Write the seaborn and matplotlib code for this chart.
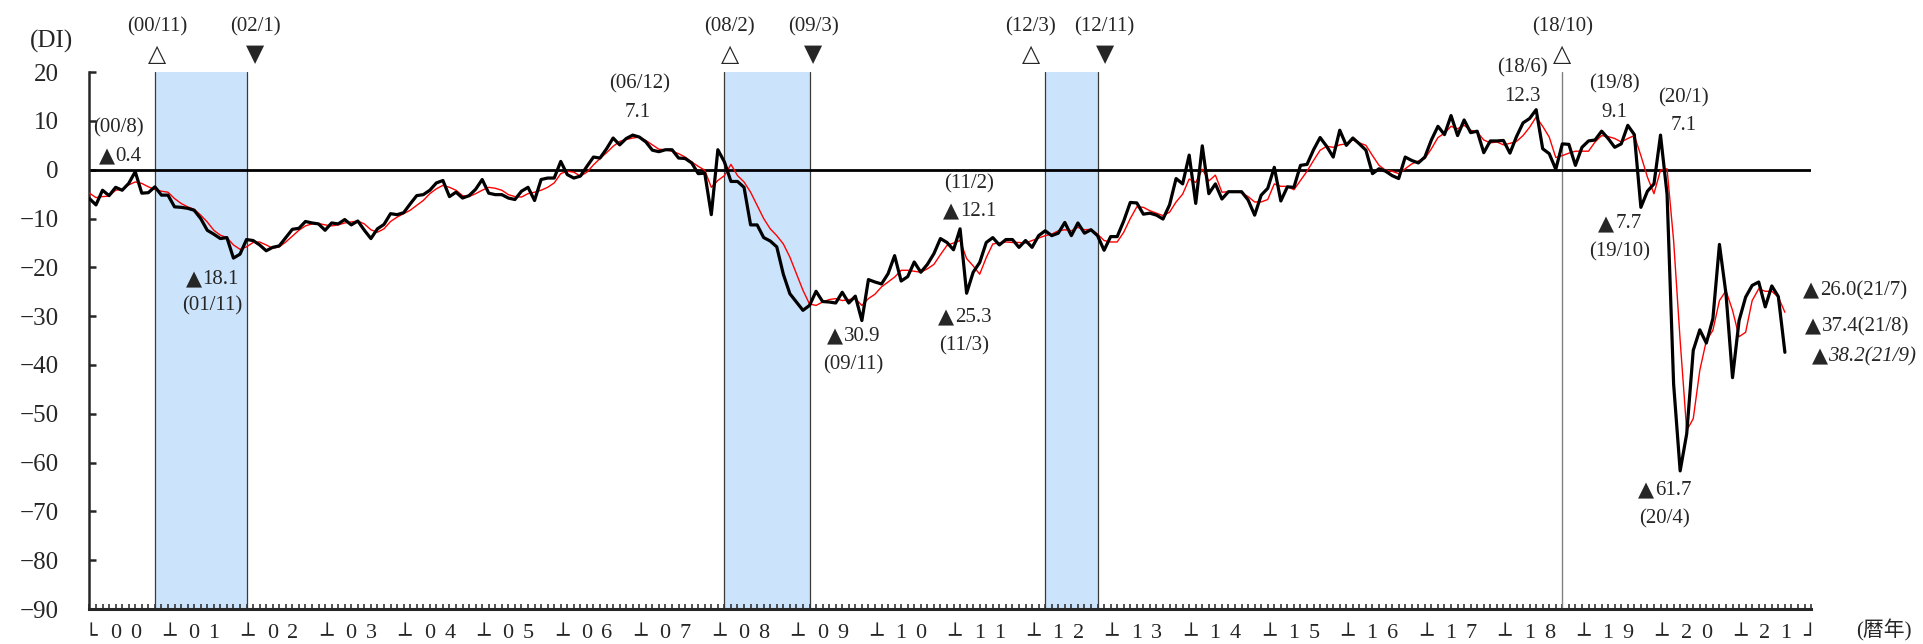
import numpy as np
import pandas as pd
import matplotlib
matplotlib.use("Agg")
import matplotlib.pyplot as plt
import seaborn as sns
from matplotlib.ticker import FixedLocator, NullLocator

# Monthly DI, 2000/1 - 2021/8 (one row per year)
di_actual = [
    -5.9, -7.2, -4.2, -5.3, -3.6, -4.2, -2.8, -0.4, -4.8, -4.7, -3.5, -5.2,         # 00
    -5.2, -7.6, -7.7, -7.9, -8.3, -10.0, -12.4, -13.2, -14.1, -13.9, -18.1, -17.3,  # 01
    -14.3, -14.5, -15.4, -16.6, -15.9, -15.6, -13.9, -12.2, -12.0, -10.6, -10.9, -11.1,  # 02
    -12.4, -10.9, -11.1, -10.2, -11.3, -10.5, -12.4, -14.1, -12.1, -11.2, -9.0, -9.2,  # 03
    -8.8, -7.0, -5.3, -5.1, -4.2, -2.7, -2.2, -5.5, -4.6, -5.8, -5.3, -4.0,        # 04
    -2.0, -4.8, -5.1, -5.1, -5.8, -6.1, -4.4, -3.6, -6.3, -2.0, -1.7, -1.7,        # 05
    1.7, -1.0, -1.7, -1.3, 0.7, 2.6, 2.4, 4.3, 6.5, 5.1, 6.4, 7.1,                 # 06
    6.7, 5.7, 4.0, 3.7, 4.1, 4.1, 2.4, 2.3, 1.4, -0.8, -0.7, -9.2,                 # 07
    4.1, 1.6, -2.4, -2.4, -3.6, -11.3, -11.3, -13.9, -14.6, -15.8, -21.4, -25.4,   # 08
    -27.1, -28.8, -27.8, -24.9, -27.0, -27.1, -27.3, -25.1, -27.3, -25.9, -30.9, -22.5,  # 09
    -23.0, -23.4, -21.3, -17.6, -22.8, -21.9, -18.9, -21.0, -19.4, -17.2, -14.1, -14.9,  # 10
    -16.4, -12.1, -25.3, -21.0, -19.0, -14.9, -13.9, -15.4, -14.3, -14.3, -15.9, -14.5,  # 11
    -15.9, -13.5, -12.5, -13.5, -13.0, -10.8, -13.5, -10.9, -13.0, -12.3, -13.5, -16.5,  # 12
    -13.7, -13.7, -10.5, -6.7, -6.8, -9.1, -8.9, -9.3, -10.1, -7.2, -1.8, -2.9,    # 13
    3.0, -6.9, 4.9, -4.9, -2.9, -6.0, -4.5, -4.5, -4.5, -6.2, -9.3, -5.2,          # 14
    -3.8, 0.5, -6.4, -3.5, -3.6, 0.9, 1.1, 4.1, 6.6, 4.8, 2.6, 8.1,                # 15
    5.0, 6.5, 5.3, 4.0, -0.8, 0.2, -0.3, -1.2, -1.8, 2.6, 1.9, 1.4,                # 16
    2.6, 6.1, 8.9, 7.2, 11.1, 7.0, 10.2, 7.6, 7.9, 3.5, 5.9, 5.9,                  # 17
    6.0, 3.4, 6.8, 9.6, 10.5, 12.3, 4.3, 3.3, 0.1, 5.3, 5.2, 0.9,                  # 18
    4.6, 5.9, 6.1, 7.9, 6.4, 4.6, 5.3, 9.1, 7.2, -7.7, -4.4, -2.9,                 # 19
    7.1, -5.0, -43.9, -61.7, -54.1, -37.0, -32.8, -35.5, -30.5, -15.3, -25.4, -42.6,  # 20
    -30.9, -26.1, -23.7, -23.0, -28.1, -23.8, -26.0, -37.4,                        # 21
]

# Red smoothed line, same months
di_smooth = [
    -4.8, -5.7, -5.5, -5.4, -4.2, -4.0, -3.1, -2.5, -2.8, -3.5, -4.0, -4.4,
    -4.6, -5.9, -6.9, -7.6, -8.1, -9.3, -10.7, -12.4, -13.4, -13.9, -15.4, -16.3,
    -15.8, -14.9, -14.8, -15.4, -16.1, -15.8, -14.8, -13.6, -12.4, -11.5, -11.1, -11.0,
    -11.3, -11.5, -11.3, -10.9, -10.7, -10.5, -11.1, -12.3, -12.8, -12.1, -10.6, -9.7,
    -9.0, -8.3, -7.3, -6.3, -4.9, -3.9, -3.2, -3.6, -4.2, -5.3, -5.5, -4.9,
    -4.2, -3.6, -3.8, -4.2, -5.1, -5.5, -5.6, -4.9, -4.6, -4.2, -3.6, -2.7,
    -0.8, -0.3, -0.5, -1.3, -0.5, 1.0, 2.3, 3.5, 4.8, 5.8, 6.2, 6.5,
    6.7, 6.0, 5.1, 4.2, 4.1, 3.8, 3.3, 2.6, 1.6, 0.7, -0.1, -3.6,
    -2.2, -1.2, 1.1, -1.2, -2.5, -4.6, -7.3, -10.0, -12.1, -13.5, -15.2, -17.9,
    -21.3, -24.7, -27.5, -27.8, -27.1, -26.6, -26.4, -26.8, -26.6, -26.4, -27.8, -26.4,
    -25.5, -24.0, -23.0, -22.0, -20.6, -20.6, -20.8, -21.0, -20.3, -19.4, -17.4, -15.5,
    -15.0, -14.5, -18.2, -19.7, -21.4, -18.0, -15.2, -15.0, -14.8, -14.9, -14.9, -15.0,
    -14.5, -14.0, -13.5, -13.2, -12.5, -12.3, -12.5, -11.8, -12.3, -12.2, -13.2, -14.5,
    -14.8, -14.8, -12.8, -10.0, -7.6, -7.7, -8.4, -8.9, -9.4, -8.7, -6.6, -5.0,
    -1.9, -2.6, 0.1, -2.3, -1.1, -4.6, -4.5, -4.5, -4.7, -5.5, -6.6, -6.6,
    -6.1, -2.9, -3.4, -3.4, -4.1, -2.2, -0.3, 1.9, 4.0, 4.8, 4.6, 5.1,
    5.3, 6.1, 5.5, 5.0, 2.9, 0.9, -0.1, -0.3, -0.8, 0.2, 1.2, 1.8,
    2.3, 4.3, 6.6, 7.5, 8.9, 8.4, 9.1, 8.1, 7.7, 6.1, 5.5, 5.7,
    5.1, 5.4, 5.8, 7.0, 8.7, 10.8, 8.9, 6.7, 2.5, 2.9, 3.4, 3.8,
    3.8, 3.8, 5.7, 7.0, 6.8, 6.4, 5.7, 6.4, 7.0, 2.9, -1.5, -4.9,
    -0.1, 0.2, -14.5, -35.0, -53.4, -51.0, -41.1, -35.0, -32.9, -26.8, -24.8, -28.8,
    -34.2, -33.3, -26.8, -24.4, -24.9, -24.9, -26.1, -29.2,
]

years = ['00', '01', '02', '03', '04', '05', '06', '07', '08', '09', '10',
         '11', '12', '13', '14', '15', '16', '17', '18', '19', '20', '21']

# shaded periods as month index from 2000/1: 00/11-02/1, 08/2-09/3, 12/3-12/11
shade_start = [10, 97, 146]
shade_end = [24, 110, 154]
peak_only = 225  # 18/10, no trough yet

# turning point labels above the plot: (text, symbol, month position)
turns = [
    ('(00/11)', '△', 10.3), ('(02/1)', '▼', 25.3),
    ('(08/2)', '△', 97.8), ('(09/3)', '▼', 110.6),
    ('(12/3)', '△', 143.8), ('(12/11)', '▼', 155.1),
    ('(18/10)', '△', 225.0),
]

# notes: (text, month position, DI position)
notes = [
    ('(00/8)', 4.4, 8.5), ('▲0.4', 4.6, 2.7),
    ('▲18.1', 18.7, -22.4), ('(01/11)', 18.7, -27.9),
    ('(06/12)', 84.0, 17.5), ('7.1', 83.8, 11.8),
    ('▲30.9', 116.7, -34.2), ('(09/11)', 116.7, -39.9),
    ('(11/2)', 134.4, -2.9), ('▲12.1', 134.4, -8.6),
    ('▲25.3', 133.6, -30.2), ('(11/3)', 133.6, -36.1),
    ('(18/6)', 218.9, 20.8), ('12.3', 218.9, 15.0),
    ('(19/8)', 233.0, 17.6), ('9.1', 233.0, 11.7),
    ('(20/1)', 243.5, 14.8), ('7.1', 243.5, 9.0),
    ('▲7.7', 233.7, -11.1), ('(19/10)', 233.7, -16.8),
    ('▲61.7', 240.6, -65.8), ('(20/4)', 240.6, -71.6),
    ('▲26.0(21/7)', 269.6, -24.8), ('▲37.4(21/8)', 269.9, -32.2),
]
note_forecast = ('▲38.2(21/9)', 271.0, -38.3)

sns.set_style('ticks')
SERIF = ['Liberation Serif', 'DejaVu Sans', 'Noto Sans CJK JP']
SYM = ['DejaVu Sans']
plt.rcParams['font.family'] = SERIF
plt.rcParams['axes.unicode_minus'] = True

df = pd.DataFrame({
    'month': np.arange(len(di_actual)),
    'actual': di_actual,
    'smooth': di_smooth,
})

fig = plt.figure(figsize=(19.23, 6.44), dpi=100)
ax = fig.add_axes([0.0465, 0.0543, 0.8953, 0.8337])

n_months = 12 * len(years)
ax.set_xlim(0, n_months - 1)
ax.set_ylim(-90, 20)

# shaded recession periods
for s, e in zip(shade_start, shade_end):
    ax.axvspan(s, e, color='#cce4fb', lw=0, zorder=0)
    ax.axvline(s, color='#3a3a3a', lw=0.9, zorder=1)
    ax.axvline(e, color='#3a3a3a', lw=0.9, zorder=1)
ax.axvline(peak_only, color='#808080', lw=1.0, zorder=1)

ax.axhline(0, color='black', lw=2.0, zorder=2)

sns.lineplot(data=df, x='month', y='smooth', ax=ax, color='#ff0000',
             linewidth=1.0, zorder=3)
sns.lineplot(data=df, x='month', y='actual', ax=ax, color='black',
             linewidth=2.3, zorder=4)

# axes styling
sns.despine(ax=ax)
ax.spines['left'].set_linewidth(1.8)
ax.spines['bottom'].set_linewidth(2.2)
ax.set_xlabel('')
ax.set_ylabel('')

ax.set_yticks(np.arange(-90, 21, 10))
ax.tick_params(axis='y', direction='in', length=5, width=1.8, pad=22,
               labelsize=18)

ax.xaxis.set_major_locator(NullLocator())
ax.xaxis.set_minor_locator(FixedLocator(np.arange(n_months)))
ax.tick_params(axis='x', which='minor', direction='in', length=3.5, width=1.1)

# year labels: └ 0 0 ┘└ 0 1 ┘ ... under the axis
dig_kw = dict(ha='center', va='baseline', clip_on=False, fontsize=16, family=SERIF)
box_kw = dict(ha='center', va='top', clip_on=False, fontsize=15, family=SYM)
for i, y in enumerate(years):
    mid = 12 * i + 5.5
    ax.text(mid - 1.55, -96.0, y[0], **dig_kw)
    ax.text(mid + 1.55, -96.0, y[1], **dig_kw)
    ax.text(12 * i + 0.2, -93.6, '└' if i == 0 else '┴', **box_kw)
ax.text(n_months - 1.3, -93.6, '┘', **box_kw)

# labels outside the plot
kw = dict(ha='center', va='center', clip_on=False, fontsize=15, family=SERIF)
ax.text(-5.8, 26.2, '(DI)', **dict(kw, fontsize=18))
ax.text(274.1, -94.3, '(暦年)', **kw)

for lbl, sym, x in turns:
    ax.text(x, 29.3, lbl, **kw)
    ax.text(x, 23.7, sym, **dict(kw, fontsize=17, family=SYM))

# notes; the ▲ sign is set in DejaVu Sans, the rest in the serif face
fig.canvas.draw()
renderer = fig.canvas.get_renderer()


def put_note(txt, x, y, style='normal'):
    if not txt.startswith('▲'):
        ax.text(x, y, txt, style=style, **kw)
        return
    tri = ax.text(x, y, '▲', ha='left', va='center', clip_on=False,
                  fontsize=15, family=SYM)
    rest = ax.text(x, y, txt[1:], ha='left', va='center', clip_on=False,
                   fontsize=15, family=SERIF, style=style)
    w_tri = tri.get_window_extent(renderer).width
    w_rest = rest.get_window_extent(renderer).width
    cx, cy = ax.transData.transform((x, y))
    left = cx - (w_tri + w_rest) / 2
    inv = ax.transData.inverted()
    tri.set_position(inv.transform((left, cy)))
    rest.set_position(inv.transform((left + w_tri + 1, cy)))


for txt, x, y in notes:
    put_note(txt, x, y)
put_note(*note_forecast, style='italic')

fig.savefig('out.png', dpi=100)
